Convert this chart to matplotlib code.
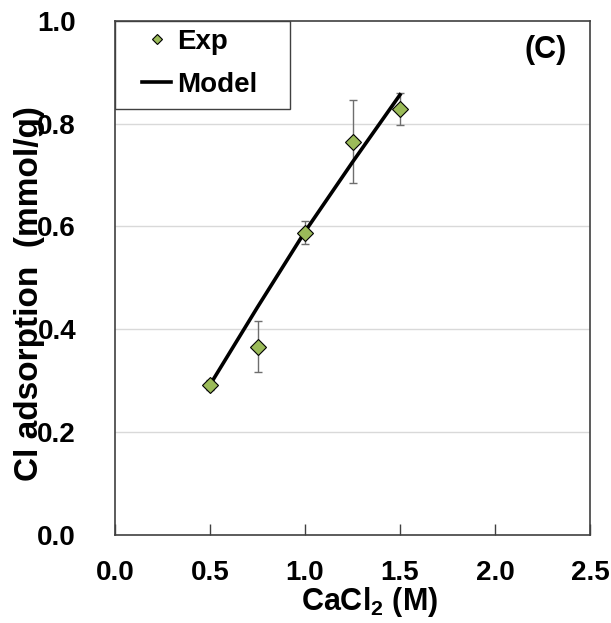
import matplotlib.pyplot as plt
from matplotlib.patches import Rectangle

plt.rcParams['font.family'] = ['Liberation Sans', 'DejaVu Sans']
plt.rcParams['font.weight'] = 'bold'
plt.rcParams['mathtext.default'] = 'regular'

# experimental points
conc = [0.5, 0.75, 1.0, 1.25, 1.5]
cl_ads = [0.292, 0.366, 0.588, 0.765, 0.828]
cl_err = [0.010, 0.050, 0.022, 0.080, 0.031]

# model curve
model_conc = [0.5, 0.75, 1.0, 1.25, 1.5]
model_ads = [0.292, 0.443, 0.590, 0.725, 0.856]

x_ticks = [0.0, 0.5, 1.0, 1.5, 2.0, 2.5]
y_ticks = [0.0, 0.2, 0.4, 0.6, 0.8, 1.0]

fig = plt.figure(figsize=(6.11, 6.23), dpi=100)
ax = fig.add_axes([115 / 611, 88 / 623, 475 / 611, 514.3 / 623])

ax.plot(model_conc, model_ads, color='black', lw=2.6, label='Model', zorder=3)
ax.errorbar(conc, cl_ads, yerr=cl_err, fmt='none', ecolor='#6e6e6e',
            elinewidth=1, capsize=2.6, capthick=1, zorder=2)
ax.plot(conc, cl_ads, ls='none', marker='D', ms=8.5, mfc='#9BBB59',
        mec='black', mew=0.8, label='Exp', zorder=4)

ax.set_xlim(0, 2.5)
ax.set_ylim(0, 1.0)
ax.set_xticks(x_ticks)
ax.set_yticks(y_ticks)
ax.set_xticklabels([f'{v:.1f}' for v in x_ticks])
ax.set_yticklabels([f'{v:.1f}' for v in y_ticks])
ax.tick_params(axis='x', direction='in', length=8, width=1, color='#404040',
               labelsize=20, pad=18)
ax.tick_params(axis='y', length=0, labelsize=20, pad=28)

for y in y_ticks[1:-1]:
    ax.axhline(y, color='#d9d9d9', lw=1, zorder=0)

for s in ax.spines.values():
    s.set_color('#404040')
    s.set_linewidth(1.2)

ax.set_xlabel('CaCl$_2$ (M)', fontsize=22, fontweight='bold', va='center')
ax.xaxis.set_label_coords(0.535, -0.13)
ax.set_ylabel('Cl adsorption  (mmol/g)', fontsize=24, fontweight='bold', va='center')
ax.yaxis.set_label_coords(-0.18, 0.47)

ax.text(0.907, 0.943, '(C)', transform=ax.transAxes, fontsize=22,
        fontweight='bold', ha='center', va='center')

# legend box drawn by hand so it can be wider than its content
ax.add_patch(Rectangle((0, 1 - 88.3 / 514.3), 175 / 475, 88.3 / 514.3,
                       transform=ax.transAxes, fc='white', ec='#404040',
                       lw=1, zorder=5))
handles, labels = ax.get_legend_handles_labels()
leg = ax.legend(handles[::-1], labels[::-1], loc='upper left',
                bbox_to_anchor=(27 / 475, 0.984), fontsize=20,
                markerscale=0.65, frameon=False, borderaxespad=0, borderpad=0,
                handlelength=1.05, handletextpad=0.2, labelspacing=0.6)
leg.set_zorder(6)

fig.savefig('out.png', dpi=100)
